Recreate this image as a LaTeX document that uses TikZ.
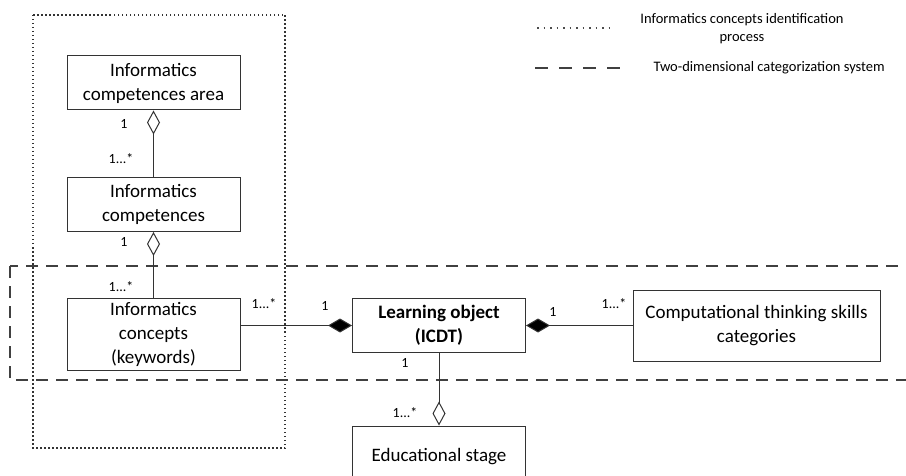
\documentclass[tikz,border=0pt]{standalone}
\usepackage{fontspec}
\setmainfont{Carlito}
\usetikzlibrary{arrows.meta}

\begin{document}
\begin{tikzpicture}[x=1pt,y=-1pt,
   box/.style={draw=black!80, line width=1pt, fill=white, align=center, inner sep=2pt,
     minimum width=173pt, minimum height=54pt, font=\fontsize{19}{24}\selectfont},
   mult/.style={font=\fontsize{14}{16}\selectfont, inner sep=0pt},
   link/.style={draw=black!80, line width=1pt},
   agg/.style={{Diamond[open, length=24pt, width=13pt, line width=1pt]}-},
   comp/.style={{Diamond[length=24pt, width=14pt, fill=black]}-}]
 \useasboundingbox (0,0) rectangle (906,476);
 % frames
 \draw [line width=1.3pt, dash pattern=on 1.5pt off 2.5pt, black!80] (33,15) rectangle (285,448);
 \draw [line width=1.8pt, dash pattern=on 12pt off 8pt, black!75] (10,266) rectangle (930,380);
 % legend
 \draw [line width=1.3pt, dash pattern=on 1.5pt off 5pt, black!70] (537,28) -- (612,28);
 \node [font=\fontsize{14.5}{18}\selectfont, align=center] at (742,29) {Informatics concepts identification\\process};
 \draw [line width=2pt, dash pattern=on 13pt off 11pt, black!75] (535,68) -- (620,68);
 \node [font=\fontsize{14.5}{16}\selectfont, anchor=west] at (650,68) {Two-dimensional categorization system};
 % classes
 \node (area) [box] at (153.5,83) {Informatics\\competences area};
 \node (comp) [box] at (153.5,204.5) {Informatics\\competences};
 \node (conc) [box, minimum height=72pt] at (153.5,334) {Informatics\\concepts\\(keywords)};
 \node (lo) [box, font=\fontsize{19}{24}\selectfont\bfseries] at (439,325.5) {Learning object\\(ICDT)};
 \node (ct) [box, minimum width=247pt, minimum height=71pt] at (756.5,325.5) {Computational thinking skills\\categories};
 \node (edu) [box, minimum height=62pt] at (439,457) {Educational stage};
 % associations
 \draw [link, agg] (area.south) -- (comp.north);
 \draw [link, agg] (comp.south) -- (conc.north);
 \draw [link, comp] (lo.west) -- (lo.west -| conc.east);
 \draw [link, comp] (lo.east) -- (lo.east -| ct.west);
 \draw [link, agg] (edu.north) -- (lo.south);
 % multiplicities
 \node [mult] at (124,124) {1};
 \node [mult] at (121,159) {1...*};
 \node [mult] at (124,242) {1};
 \node [mult] at (121,287) {1...*};
 \node [mult] at (264,304) {1...*};
 \node [mult] at (325,306) {1};
 \node [mult] at (553,312) {1};
 \node [mult] at (614,304) {1...*};
 \node [mult] at (405,363) {1};
 \node [mult] at (405,413) {1...*};
\end{tikzpicture}
\end{document}
